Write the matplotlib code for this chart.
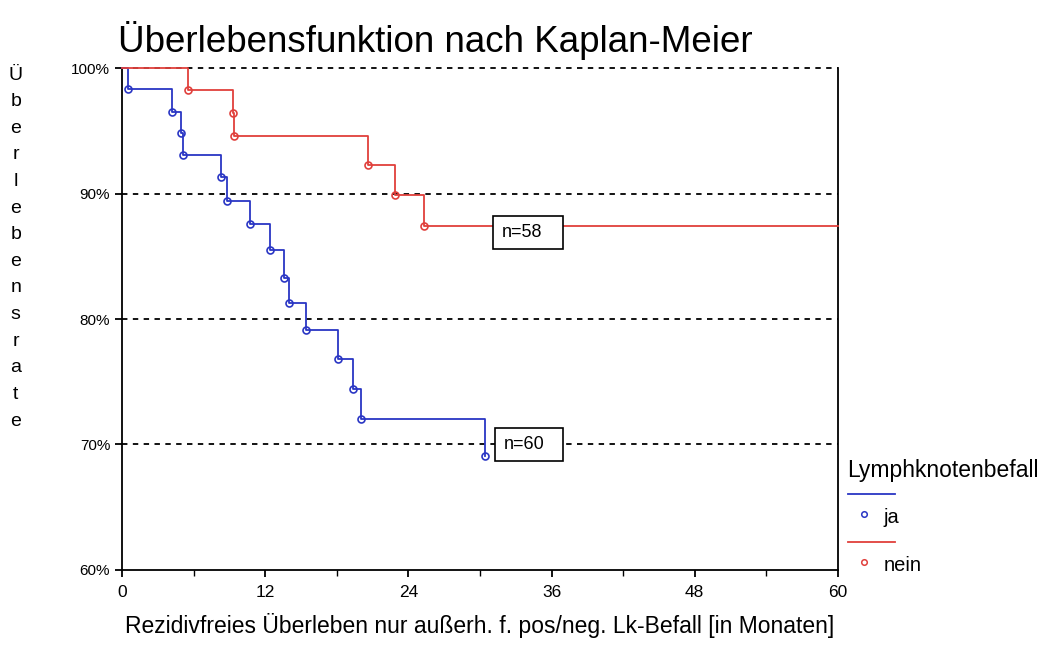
import matplotlib
matplotlib.use("Agg")
import matplotlib.pyplot as plt
from matplotlib.lines import Line2D
from matplotlib.patches import Rectangle

plt.rcParams["font.family"] = ["Liberation Sans", "DejaVu Sans"]

# Kaplan-Meier steps (months, survival %)
ja_t = [0, 0.5, 4.2, 4.95, 5.1, 8.27, 8.77, 10.73, 12.4, 13.6, 14.0, 15.4, 18.1, 19.4, 20.0, 30.45]
ja_s = [100, 98.3, 96.5, 94.8, 93.1, 91.3, 89.4, 87.6, 85.5, 83.3, 81.3, 79.1, 76.8, 74.4, 72.0, 69.1]
nein_t = [0, 5.5, 9.33, 9.4, 20.65, 22.9, 25.35, 60]
nein_s = [100, 98.25, 96.4, 94.6, 92.3, 89.9, 87.4, 87.4]
n_labels = ["n=58", "n=60"]
n_pos = [(31.1, 86.9), (31.3, 70.0)]

BLUE = "#2a36c4"
RED = "#e0403c"

fig = plt.figure(figsize=(10.54, 6.65), dpi=100)
ax = fig.add_axes([0.1157, 0.1429, 0.6793, 0.7548])

for y in [70, 80, 90, 100]:
    ax.axhline(y, color="black", lw=1.3, ls=(0, (3, 3)), zorder=1, clip_on=False)

ax.step(ja_t, ja_s, where="post", color=BLUE, lw=1.3, zorder=3, clip_on=False)
ax.plot(ja_t[1:], ja_s[1:], "o", mfc="none", mec=BLUE, ms=5, mew=1.2, zorder=4)
ax.step(nein_t, nein_s, where="post", color=RED, lw=1.3, zorder=3, clip_on=False)
ax.plot(nein_t[1:-1], nein_s[1:-1], "o", mfc="none", mec=RED, ms=5, mew=1.2, zorder=4)

# boxed n-labels (box wider than text, like the original)
for lab, (x0, y0) in zip(n_labels, n_pos):
    ax.add_patch(Rectangle((x0, y0 - 1.3), 36.97 - x0, 2.6, fc="white", ec="black",
                           lw=1.2, zorder=5))
    ax.text(x0 + 0.7, y0, lab, ha="left", va="center", fontsize=13, zorder=6)

ax.set_xlim(0, 60)
ax.set_ylim(60, 100)
ax.set_xticks([0, 12, 24, 36, 48, 60])
ax.set_xticks([6, 18, 30, 42, 54], minor=True)
ax.set_yticks([60, 70, 80, 90, 100])
ax.set_yticklabels(["60%", "70%", "80%", "90%", "100%"])
ax.tick_params(axis="both", length=5, width=1.3, direction="out")
ax.tick_params(axis="y", labelsize=11)
ax.tick_params(axis="x", labelsize=12.5, pad=6)
ax.tick_params(axis="x", which="minor", length=4, width=1)
ax.spines["top"].set_visible(False)
for s in ["left", "bottom", "right"]:
    ax.spines[s].set_linewidth(1.3)

fig.text(0.112, 0.922, "Überlebensfunktion nach Kaplan-Meier", fontsize=26.5,
         ha="left", va="baseline")
fig.text(0.455, 0.06, "Rezidivfreies Überleben nur außerh. f. pos/neg. Lk-Befall [in Monaten]",
         fontsize=16.5, ha="center", va="center")
fig.text(0.015, 0.9, "\n".join("Überlebensrate"), fontsize=14, ha="center", va="top",
         linespacing=1.74)

# legend
fig.text(0.804, 0.293, "Lymphknotenbefall", fontsize=16.5, ha="left", va="center")
leg_y = [0.257, 0.185]
for lab, c, ly in zip(["ja", "nein"], [BLUE, RED], leg_y):
    fig.add_artist(Line2D([0.805, 0.849], [ly, ly], color=c, lw=1.3))
    fig.add_artist(Line2D([0.8195], [ly - 0.03], marker="o", mfc="none", mec=c, ms=4, mew=1.1))
    fig.text(0.838, ly - 0.035, lab, fontsize=14.5, ha="left", va="center")

fig.savefig("out.png", dpi=100)
